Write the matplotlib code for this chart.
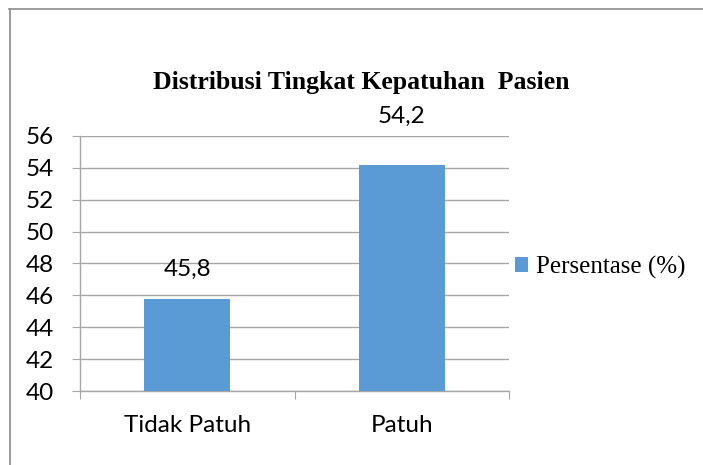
import matplotlib
matplotlib.use("Agg")
import matplotlib.pyplot as plt
from matplotlib.lines import Line2D

categories = ["Tidak Patuh", "Patuh"]
values = [45.8, 54.2]
value_labels = ["45,8", "54,2"]
yticks = [40, 42, 44, 46, 48, 50, 52, 54, 56]
series_name = "Persentase (%)"
title = "Distribusi Tingkat Kepatuhan  Pasien"

W, H = 703, 465
fig = plt.figure(figsize=(W / 100, H / 100), dpi=100)
fig.patch.set_facecolor("white")

# outer chart border
fig.add_artist(Line2D([9 / W, 1.0], [1 - 9 / H, 1 - 9 / H], transform=fig.transFigure,
                      color="#8c8c8c", lw=1.2))
fig.add_artist(Line2D([10 / W, 10 / W], [0, 1 - 9 / H], transform=fig.transFigure,
                      color="#8c8c8c", lw=1.2))

ax = fig.add_axes([80 / W, (H - 391) / H, (509 - 80) / W, (391 - 136) / H])
grid_c = "#a6a6a6"
x = list(range(len(categories)))
bars = ax.bar(x, values, width=0.4, color="#5b9bd5", zorder=3, label=series_name)

FS = 17.5
ax.set_ylim(40, 56)
ax.set_xlim(-0.5, len(categories) - 0.5)
ax.set_yticks(yticks)
ax.set_yticklabels([str(v) for v in yticks], fontfamily="Lato", fontsize=FS)
ax.yaxis.grid(True, color=grid_c, lw=1.0, zorder=0)
ax.tick_params(axis="y", length=6, color=grid_c, pad=13)

ax.set_xticks([i - 0.5 for i in range(len(categories) + 1)])
ax.set_xticklabels([])
ax.set_xticks(x, minor=True)
ax.set_xticklabels(categories, minor=True, fontfamily="Lato", fontsize=FS)
ax.tick_params(axis="x", which="major", length=6, color=grid_c)
ax.tick_params(axis="x", which="minor", length=0, pad=17)

for s in ["top", "right"]:
    ax.spines[s].set_visible(False)
for s in ["left", "bottom"]:
    ax.spines[s].set_color(grid_c)
    ax.spines[s].set_linewidth(1.0)

# baseline offsets (px) of value labels above bar tops
offsets = [23, 42]
for b, lab, off in zip(bars, value_labels, offsets):
    ax.annotate(lab, (b.get_x() + b.get_width() / 2, b.get_height()),
                xytext=(0, off * 0.72), textcoords="offset points",
                ha="center", va="baseline", fontfamily="Lato", fontsize=FS,
                annotation_clip=False)

fig.text(361 / W, 1 - 89 / H, title, ha="center", va="baseline",
         fontfamily="Liberation Serif", fontweight="bold", fontsize=18.5)

leg = ax.legend(loc="center left", bbox_to_anchor=(492 / W, 1 - 267 / H),
                bbox_transform=fig.transFigure, frameon=False,
                prop={"family": "Liberation Serif", "size": 18},
                handlelength=0.55, handleheight=0.55, handletextpad=0.3)

fig.savefig("out.png", dpi=100)
